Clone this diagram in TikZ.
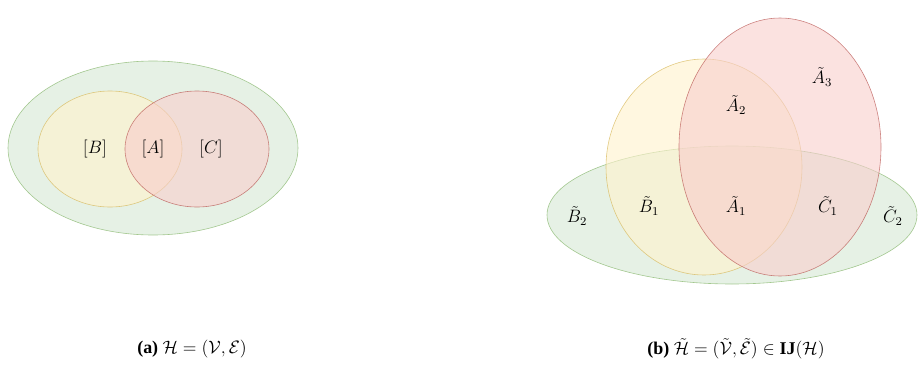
\documentclass[tikz,border=0pt]{standalone}
\usepackage{fontspec}
\setmainfont{Liberation Serif}
\usepackage{amsmath}
\definecolor{grfill}{HTML}{D5E8D4}
\definecolor{grline}{HTML}{82B366}
\definecolor{yefill}{HTML}{FFF2CC}
\definecolor{yeline}{HTML}{D6B656}
\definecolor{refill}{HTML}{F8CECC}
\definecolor{reline}{HTML}{B85450}
\tikzset{
    greenset/.style = {draw = grline, fill = grfill, fill opacity = 0.6, draw opacity = 0.7},
    yellowset/.style = {draw = yeline, fill = yefill, fill opacity = 0.6, draw opacity = 0.7},
    redset/.style = {draw = reline, fill = refill, fill opacity = 0.6, draw opacity = 0.7},
}
\begin{document}
\begin{tikzpicture}[x = 0.02352cm, y = -0.02352cm, every node/.style = {font = \large}]
        \useasboundingbox (0, 0) rectangle (918, 374);
        % left: the hypergraph
        \draw[greenset] (153, 148) ellipse (145 and 87);
        \draw[yellowset] (110, 149) ellipse (72 and 58);
        \draw[redset] (197, 149) ellipse (72 and 58);
        \node (lb) at (95, 149) {$[B]$};
        \node (la) at (153, 149) {$[A]$};
        \node (lc) at (211, 149) {$[C]$};
        % right: the split hypergraph
        \draw[greenset] (732, 215) ellipse (185 and 69);
        \draw[yellowset] (704, 167) ellipse (98 and 108);
        \draw[redset] (780, 147) ellipse (101 and 129);
        \node (ra3) at (822, 77) {$\tilde{A}_3$};
        \node (ra2) at (736, 105) {$\tilde{A}_2$};
        \node (ra1) at (736, 206) {$\tilde{A}_1$};
        \node (rb1) at (649, 206) {$\tilde{B}_1$};
        \node (rc1) at (828, 206) {$\tilde{C}_1$};
        \node (rb2) at (577, 216) {$\tilde{B}_2$};
        \node (rc2) at (893, 216) {$\tilde{C}_2$};
        % captions
        \node (capa) at (192, 349) {\textbf{(a)} $\mathcal{H} = (\mathcal{V}, \mathcal{E})$};
        \node (capb) at (736, 349) {\textbf{(b)} $\tilde{\mathcal{H}} = (\tilde{\mathcal{V}}, \tilde{\mathcal{E}}) \in \mathbf{IJ}(\mathcal{H})$};
    \end{tikzpicture}
\end{document}
